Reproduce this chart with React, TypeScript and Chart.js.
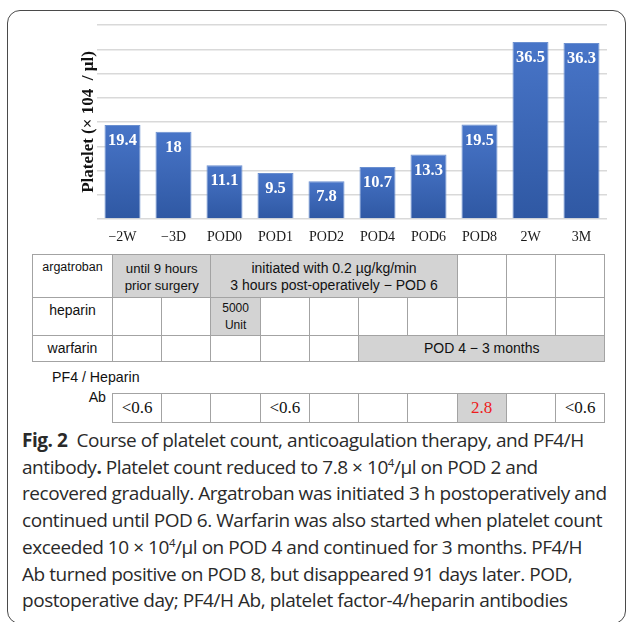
import React, { useEffect, useRef } from "react";
import { Chart, registerables } from "chart.js";

Chart.register(...registerables);

// ---------- data ----------
const categories = ["\u22122W", "\u22123D", "POD0", "POD1", "POD2", "POD4", "POD6", "POD8", "2W", "3M"];
const platelet = [19.4, 18, 11.1, 9.5, 7.8, 10.7, 13.3, 19.5, 36.5, 36.3];
const yMin = 0;
const yMax = 40;
const yStep = 5;
const yTitle = "Platelet (\u00d7 104  / \u00b5l)";

type Cell = { span: number; text?: string[]; fill?: boolean };
const argatrobanCells: Cell[] = [
  { span: 2, text: ["until 9 hours", "prior surgery"], fill: true },
  { span: 5, text: ["initiated with 0.2 \u00b5g/kg/min", "3 hours post-operatively \u2212 POD 6"], fill: true },
  { span: 1 },
  { span: 1 },
  { span: 1 },
];
const heparinCells: Cell[] = [
  { span: 1 },
  { span: 1 },
  { span: 1, text: ["5000", "Unit"], fill: true },
  { span: 1 },
  { span: 1 },
  { span: 1 },
  { span: 1 },
  { span: 1 },
  { span: 1 },
  { span: 1 },
];
const warfarinCells: Cell[] = [
  { span: 1 },
  { span: 1 },
  { span: 1 },
  { span: 1 },
  { span: 1 },
  { span: 5, text: ["POD 4 \u2212 3 months"], fill: true },
];
const drugNames = ["argatroban", "heparin", "warfarin"];
const pf4Values = ["<0.6", "", "", "<0.6", "", "", "", "2.8", "", "<0.6"];
const pf4Positive = [false, false, false, false, false, false, false, true, false, false];

// ---------- layout constants ----------
const TBL_LEFT = 32;
const LABEL_W = 80;
const COL_W = 49.23;
const ROW_TOPS = [254.3, 297.3, 335, 360.7];
const PF4_TOP = 393;
const PF4_BOTTOM = 422;
const BORDER = "#a3a3a3";
const FILL = "#d3d3d3";
const SANS = '"Liberation Sans", Arial, sans-serif';
const SERIF = '"Liberation Serif", "Times New Roman", serif';

const barLabelPlugin = {
  id: "barLabels",
  afterDatasetsDraw(chart: any) {
    const ctx = chart.ctx;
    const meta = chart.getDatasetMeta(0);
    ctx.save();
    ctx.fillStyle = "#ffffff";
    ctx.font = `bold 16.5px ${SERIF}`;
    ctx.textAlign = "center";
    ctx.textBaseline = "middle";
    meta.data.forEach((el: any, i: number) => {
      ctx.fillText(String(platelet[i]), el.x, el.y + 16);
    });
    ctx.restore();
  },
};

function BarChart() {
  const ref = useRef<HTMLCanvasElement | null>(null);
  useEffect(() => {
    if (!ref.current) return;
    const chart = new Chart(ref.current, {
      type: "bar",
      data: {
        labels: categories,
        datasets: [
          {
            data: platelet,
            backgroundColor: (c: any) => {
              const ch = c.chart;
              if (!ch.chartArea || c.type !== "data" || !ch.scales.y) return "#3d67b5";
              const ys = ch.scales.y;
              const top = ys.getPixelForValue(c.raw as number);
              const bottom = ys.getPixelForValue(0);
              const g = ch.ctx.createLinearGradient(0, top, 0, bottom);
              g.addColorStop(0, "#4875c8");
              g.addColorStop(1, "#2f58a3");
              return g;
            },
            borderColor: "#6a8fd0",
            borderWidth: 1,
            barPercentage: 0.706,
            categoryPercentage: 1,
          },
        ],
      },
      options: {
        animation: false,
        responsive: true,
        maintainAspectRatio: false,
        layout: { padding: { left: 78, right: 19, top: 25, bottom: 0 } },
        plugins: { legend: { display: false }, tooltip: { enabled: false } },
        scales: {
          x: {
            grid: { display: false },
            border: { display: false },
            ticks: { color: "#1a1a1a", font: { family: SERIF, size: 14 }, padding: 2 },
            afterFit: (s: any) => {
              s.height = 31;
            },
          },
          y: {
            min: yMin,
            max: yMax,
            ticks: { stepSize: yStep, display: false },
            grid: { color: "#d9d9d9", lineWidth: 1.5, drawTicks: false },
            border: { display: false },
            title: {
              display: true,
              text: yTitle,
              color: "#111",
              font: { family: SERIF, size: 17, weight: "bold" },
              padding: 0,
            },
            afterFit: (s: any) => {
              s.width = 19;
            },
          },
        },
      },
      plugins: [barLabelPlugin],
    });
    return () => chart.destroy();
  }, []);
  return (
    <div style={{ position: "absolute", left: 0, top: 0, width: 626, height: 250 }}>
      <canvas ref={ref} />
    </div>
  );
}

const cellStyleFor = (t: string) => {
  if (t === "5000" || t === "Unit") return { size: 12, lh: 17 };
  if (t === "until 9 hours" || t === "prior surgery") return { size: 13.2, lh: 17 };
  return { size: 14, lh: 17 };
};

function DrugTable() {
  const rows = [argatrobanCells, heparinCells, warfarinCells];
  const els: React.ReactNode[] = [];
  rows.forEach((cells, r) => {
    const top = ROW_TOPS[r];
    const h = ROW_TOPS[r + 1] - top;
    const name = drugNames[r];
    const alignTop = r === 0 || r === 1;
    els.push(
      <div
        key={`l${r}`}
        style={{
          position: "absolute",
          left: TBL_LEFT,
          top,
          width: LABEL_W + 1,
          height: h + 1,
          border: `1px solid ${BORDER}`,
          boxSizing: "border-box",
          display: "flex",
          justifyContent: "center",
          alignItems: alignTop ? "flex-start" : "center",
          paddingTop: alignTop ? 4 : 0,
          fontFamily: SANS,
          fontSize: r === 0 ? 12.5 : 14,
          lineHeight: "17px",
          color: "#111",
        }}
      >
        {name}
      </div>
    );
    let col = 0;
    cells.forEach((c, i) => {
      const left = TBL_LEFT + LABEL_W + col * COL_W;
      const w = c.span * COL_W;
      col += c.span;
      const lines = c.text || [];
      const st = cellStyleFor(lines[0] || "");
      els.push(
        <div
          key={`c${r}_${i}`}
          style={{
            position: "absolute",
            left,
            top,
            width: w + 1,
            height: h + 1,
            border: `1px solid ${BORDER}`,
            boxSizing: "border-box",
            background: c.fill ? FILL : "#fff",
            display: "flex",
            flexDirection: "column",
            justifyContent: r === 0 ? "flex-start" : "center",
            alignItems: "center",
            paddingTop: r === 0 ? 5 : 0,
            fontFamily: SANS,
            fontSize: st.size,
            lineHeight: `${st.lh}px`,
            color: "#111",
            whiteSpace: "nowrap",
          }}
        >
          {lines.map((t, k) => (
            <div key={k}>{t}</div>
          ))}
        </div>
      );
    });
  });

  // PF4 row
  els.push(
    <div
      key="pf4label"
      style={{
        position: "absolute",
        left: 52,
        top: 369,
        fontFamily: SANS,
        fontSize: 14.2,
        lineHeight: "17px",
        color: "#111",
        whiteSpace: "nowrap",
      }}
    >
      PF4 / Heparin
    </div>
  );
  els.push(
    <div
      key="pf4ab"
      style={{
        position: "absolute",
        left: 60,
        width: 46,
        textAlign: "right",
        top: 389,
        fontFamily: SANS,
        fontSize: 14.2,
        lineHeight: "17px",
        color: "#111",
      }}
    >
      Ab
    </div>
  );
  pf4Values.forEach((v, i) => {
    const left = TBL_LEFT + LABEL_W + i * COL_W;
    els.push(
      <div
        key={`p${i}`}
        style={{
          position: "absolute",
          left,
          top: PF4_TOP,
          width: COL_W + 1,
          height: PF4_BOTTOM - PF4_TOP + 1,
          border: `1px solid ${BORDER}`,
          boxSizing: "border-box",
          background: pf4Positive[i] ? FILL : "#fff",
          display: "flex",
          justifyContent: "center",
          alignItems: "center",
          fontFamily: SERIF,
          fontSize: 17,
          color: pf4Positive[i] ? "#ee1c1c" : "#111",
        }}
      >
        {v}
      </div>
    );
  });
  return <>{els}</>;
}

function Caption() {
  const sup = { fontSize: "0.6em", verticalAlign: "0.6em", lineHeight: 0 } as React.CSSProperties;
  return (
    <div
      style={{
        position: "absolute",
        left: 22,
        top: 427,
        fontFamily: '"Open Sans", "Noto Sans", sans-serif',
        fontSize: 19,
        lineHeight: "26.7px",
        color: "#2a2a2a",
        whiteSpace: "nowrap",
        letterSpacing: -0.45,
      }}
    >
      <div>
        <b>Fig. 2</b>&nbsp; Course of platelet count, anticoagulation therapy, and PF4/H
      </div>
      <div>
        antibody<b>.</b> Platelet count reduced to 7.8 × 10<span style={sup}>4</span>/µl on POD 2 and
      </div>
      <div>recovered gradually. Argatroban was initiated 3 h postoperatively and</div>
      <div>continued until POD 6. Warfarin was also started when platelet count</div>
      <div>
        exceeded 10 × 10<span style={sup}>4</span>/µl on POD 4 and continued for 3 months. PF4/H
      </div>
      <div>Ab turned positive on POD 8, but disappeared 91 days later. POD,</div>
      <div>postoperative day; PF4/H Ab, platelet factor-4/heparin antibodies</div>
    </div>
  );
}

export default function App() {
  return (
    <div
      style={{
        position: "fixed",
        left: 0,
        top: 0,
        width: 626,
        height: 622,
        overflow: "hidden",
        background: "#fff",
      }}
    >
      <div
        style={{
          position: "absolute",
          left: 7,
          top: 10,
          width: 619,
          height: 614,
          border: "1.3px solid #4a4a4a",
          borderRadius: 13,
          boxSizing: "border-box",
        }}
      />
      <BarChart />
      <DrugTable />
      <Caption />
    </div>
  );
}
